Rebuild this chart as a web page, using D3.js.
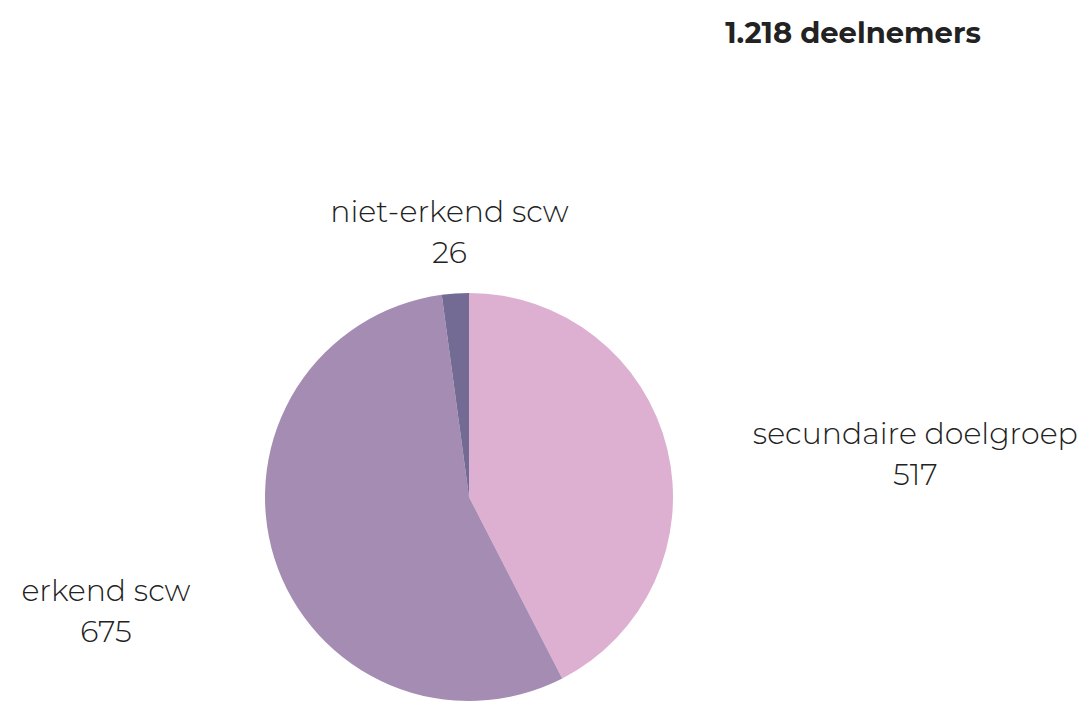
<!DOCTYPE html>
<html>
<head>
<meta charset="utf-8">
<script src="https://cdn.jsdelivr.net/npm/d3@7"></script>
<style>
  body { margin: 0; background: #fff; }
  text { font-family: Montserrat, "Noto Sans", sans-serif; fill: #222; }
</style>
</head>
<body>
<svg id="chart" width="1080" height="701"></svg>
<script>
var labels = ["secundaire doelgroep", "erkend scw", "niet-erkend scw"]
var values = [517, 675, 26]
var colors = ["#ddafd0", "#a58cb3", "#736b94"]
var title = "1.218 deelnemers"

var width = 1080, height = 701
var cx = 469, cy = 497, radius = 204
var label_radius = 292

var svg = d3.select("#chart")

svg.append("text")
   .attr("x", 853)
   .attr("y", 43)
   .attr("text-anchor", "middle")
   .style("font-size", "29px")
   .style("font-weight", 700)
   .text(title)

var dataset = labels.map(function(l, i){ return {label: l, value: values[i], color: colors[i]} })

var pie = d3.pie().sort(null).value(function(d){ return d.value })
var arc = d3.arc().innerRadius(0).outerRadius(radius)
var label_arc = d3.arc().innerRadius(label_radius).outerRadius(label_radius)

var g = svg.append("g").attr("transform", "translate(" + cx + "," + cy + ")")
var arcs = pie(dataset)

g.selectAll("path")
 .data(arcs)
 .enter()
 .append("path")
 .attr("d", arc)
 .style("fill", function(d){ return d.data.color })

// labels: name + value, centred on each other, pushed outward
var lab = g.selectAll("g.lab")
 .data(arcs)
 .enter()
 .append("g")
 .attr("class", "lab")

lab.each(function(d){
  var sel = d3.select(this)
  var p = label_arc.centroid(d)
  var mid = (d.startAngle + d.endAngle) / 2
  var name = sel.append("text")
     .attr("text-anchor", "middle")
     .attr("y", p[1] + 16)
     .style("font-size", "30px")
     .style("font-weight", 300)
     .text(d.data.label)
  var w = name.node().getComputedTextLength()
  var x = p[0]
  if (Math.abs(Math.sin(mid)) > 0.3) {
    x = Math.sin(mid) > 0 ? p[0] + w/2 : p[0] - w/2
  }
  name.attr("x", x)
  sel.append("text")
     .attr("text-anchor", "middle")
     .attr("x", x)
     .attr("y", p[1] + 57)
     .style("font-size", "30px")
     .style("font-weight", 300)
     .text(d3.format(",")(d.data.value).replace(/,/g, "."))
})
</script>
</body>
</html>
